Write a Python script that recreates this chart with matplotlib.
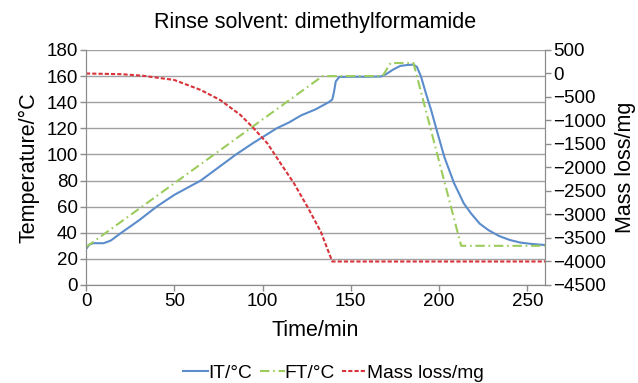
import matplotlib
matplotlib.use("Agg")
import matplotlib.pyplot as plt

plt.rcParams['font.family'] = ['Liberation Sans', 'DejaVu Sans']
plt.rcParams['font.size'] = 13.5

# IT: measured temperature (left axis)
it_time = [0, 2, 4, 10, 14, 20, 30, 40, 50, 65, 75, 85, 95, 108, 115, 122, 130,
           137.5, 139.5, 140.5, 141.5, 143.5, 150, 160, 167, 170, 174, 178, 182,
           185.5, 187.5, 189.8, 192.5, 195.5, 199, 203, 208.5, 214, 218, 223,
           228, 234, 240, 246, 252, 260]
it_temp = [27.5, 31, 32, 32, 34, 40, 49.5, 60, 69, 80, 90, 100, 109, 120, 124.5,
           130, 134.5, 140, 142, 148, 156, 159.3, 159.5, 159.5, 159.7, 161.5,
           165, 167.8, 168.5, 168.8, 167, 159.5, 147, 134, 117, 98, 78, 62.5,
           55, 47, 42, 37.5, 34.5, 32.5, 31.5, 30.6]

# FT: furnace set temperature (left axis)
ft_time = [0, 134, 168, 172.5, 185.5, 212.5, 260]
ft_temp = [29, 160, 160, 170, 170, 30, 30]

# Mass loss (right axis)
mass_time = [0, 20, 32, 50, 65, 76, 87.5, 95, 102.7, 110.2, 117.8, 125.4, 133,
             139.5, 260]
mass_loss = [0, -15, -47, -138, -351, -564, -883, -1166, -1485, -1911, -2336,
             -2834, -3366, -4000, -4000]

fig = plt.figure(figsize=(6.38, 3.83), dpi=100)
ax = fig.add_axes([0.1348, 0.2559, 0.7194, 0.6136])
ax2 = ax.twinx()

grey = '#8c8c8c'

l1, = ax.plot(it_time, it_temp, color='#5b8ccb', lw=1.5, label='IT/°C')
l2, = ax.plot(ft_time, ft_temp, color='#9ccc5c', lw=1.5, label='FT/°C',
              dashes=(4.5, 1.8, 0.8, 1.8))
l3, = ax2.plot(mass_time, mass_loss, color='#d8333a', lw=1.5,
               label='Mass loss/mg', dashes=(2, 1))

ax.set_xlim(0, 260)
ax.set_ylim(0, 180)
ax.set_xticks(range(0, 251, 50))
ax.set_yticks(range(0, 181, 20))
ax2.set_ylim(-4500, 500)
ax2.set_yticks(range(-4500, 501, 500))

ax.grid(axis='y', color='#a0a0a0', lw=1.0)
ax.set_axisbelow(True)

for a in (ax, ax2):
    a.spines['top'].set_visible(False)
    for s in ('left', 'right', 'bottom'):
        a.spines[s].set_color(grey)
    a.tick_params(color=grey, length=4, width=1, pad=2, labelsize=13.5)

ax.set_title('Rinse solvent: dimethylformamide', fontsize=15.5, pad=16)
ax.set_xlabel('Time/min', fontsize=15.5, labelpad=7)
ax.set_ylabel('Temperature/°C', fontsize=15.5, labelpad=5)
ax2.set_ylabel('Mass loss/mg', fontsize=15.5, labelpad=6)

fig.legend(handles=[l1, l2, l3], loc='center', bbox_to_anchor=(0.523, 0.025),
           ncol=3, frameon=False, fontsize=13.8, handlelength=1.3,
           handletextpad=0.0, columnspacing=0.4)

fig.savefig('out.png', dpi=100)
